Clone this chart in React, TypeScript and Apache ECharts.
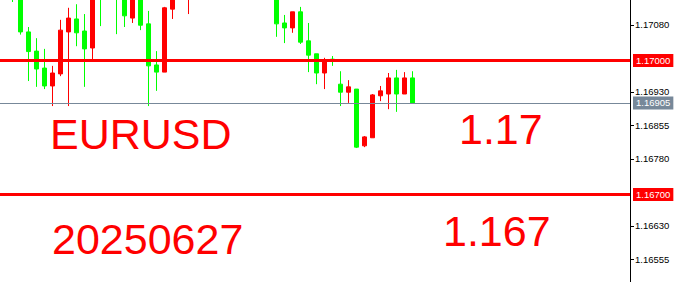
import { useEffect, useRef } from 'react';
import * as echarts from 'echarts';

// Instrument caption and the two key levels written on the chart
const symbolName = 'EURUSD';
const sessionDate = '20250627';
const levelPrices = [1.17, 1.167];
const levelCaptions = ['1.17', '1.167'];
const bidPrice = 1.16905;

// Bar slots (counted from the left edge) and their OHLC prices
const barIndex = [1, 2, 3, 4, 5, 6, 7, 8, 9, 10, 11, 12, 14, 15, 16, 17, 18, 19, 20, 21, 23,
  34, 35, 36, 37, 38, 39, 40, 41, 42, 43, 44, 45, 46, 47, 48, 49, 50, 51];
const opens = [1.17175, 1.1715, 1.17064, 1.17021, 1.16983, 1.16943, 1.1697, 1.17064, 1.17093, 1.17066, 1.17028, 1.172, 1.1718, 1.1716, 1.17095, 1.1715, 1.17082, 1.1699, 1.16974, 1.17115, 1.1715,
  1.1714, 1.17084, 1.17073, 1.17109, 1.17044, 1.17015, 1.16972, 1.17003, 1.16947, 1.16929, 1.16936, 1.16809, 1.16827, 1.16921, 1.16925, 1.16961, 1.16925, 1.16961];
const closes = [1.1715, 1.17064, 1.1702, 1.16981, 1.16943, 1.16972, 1.17068, 1.17095, 1.17062, 1.17026, 1.1715, 1.1716, 1.17145, 1.171, 1.1715, 1.17079, 1.16988, 1.16974, 1.17118, 1.1715, 1.1719,
  1.17082, 1.17073, 1.17109, 1.17041, 1.17012, 1.16972, 1.17001, 1.16999, 1.16929, 1.16941, 1.16806, 1.16829, 1.16923, 1.16932, 1.16961, 1.16925, 1.16961, 1.16905];
const lows = [1.17131, 1.17058, 1.16954, 1.16941, 1.16936, 1.16898, 1.16965, 1.16898, 1.17032, 1.16941, 1.17001, 1.17077, 1.17059, 1.17075, 1.17084, 1.17068, 1.16898, 1.16932, 1.16974, 1.17093, 1.17104,
  1.17053, 1.17039, 1.17062, 1.17037, 1.16974, 1.16947, 1.16936, 1.16988, 1.16898, 1.16905, 1.16804, 1.16806, 1.16827, 1.16909, 1.16891, 1.16885, 1.16925, 1.16905];
const highs = [1.17185, 1.1716, 1.17075, 1.1705, 1.17026, 1.16988, 1.17091, 1.17118, 1.17126, 1.17104, 1.1717, 1.1721, 1.1719, 1.1717, 1.17165, 1.1716, 1.17111, 1.17021, 1.1712, 1.17165, 1.172,
  1.1715, 1.17102, 1.17109, 1.1712, 1.17084, 1.17015, 1.17006, 1.1701, 1.16976, 1.16956, 1.16936, 1.16831, 1.16925, 1.16943, 1.16972, 1.16979, 1.16974, 1.16976];

// Price scale labels
const priceTicks = [1.16555, 1.1663, 1.1678, 1.16855, 1.1693, 1.1708];

const BULL = '#ff0000';
const BEAR = '#00ff00';
const GRAYLINE = '#778899';
const SCALE_FONT = '"Liberation Sans", Arial, sans-serif';

export default function App() {
  const ref = useRef<HTMLDivElement>(null);

  useEffect(() => {
    if (!ref.current) return;
    const chart = echarts.init(ref.current, null, { renderer: 'svg' });

    const candles = barIndex.map((k, i) => [k, opens[i], closes[i], lows[i], highs[i]]);

    const boxLabel = (bg: string) => ({
      show: true,
      position: 'end' as const,
      distance: 3,
      formatter: (p: any) => Number(p.value).toFixed(5),
      color: '#ffffff',
      backgroundColor: bg,
      padding: [2, 3, 1, 3],
      fontSize: 9.5,
      fontFamily: SCALE_FONT,
    });

    chart.setOption({
      animation: false,
      backgroundColor: '#ffffff',
      grid: { left: 0, top: 0, width: 630, bottom: 0, containLabel: false, outerBoundsMode: 'none' },
      xAxis: {
        type: 'value',
        min: -0.5625,
        max: 78.1875,
        show: false,
      },
      yAxis: {
        type: 'value',
        position: 'right',
        min: 1.165041,
        max: 1.1713545,
        scale: true,
        splitLine: { show: false },
        axisLine: { show: true, onZero: false, lineStyle: { color: '#000000', width: 1 } },
        axisTick: {
          show: true,
          length: 4,
          inside: false,
          customValues: priceTicks,
          lineStyle: { color: '#000000' },
        },
        axisLabel: {
          show: true,
          customValues: priceTicks,
          margin: 5,
          color: '#000000',
          fontSize: 9.5,
          fontFamily: SCALE_FONT,
          formatter: (v: number) => v.toFixed(5),
        },
      },
      series: [
        {
          type: 'candlestick',
          data: candles,
          barWidth: 4,
          clip: true,
          itemStyle: {
            color: BULL,
            color0: BEAR,
            borderColor: BULL,
            borderColor0: BEAR,
            borderColorDoji: BEAR,
            borderWidth: 1,
          },
          emphasis: { disabled: true },
          markLine: {
            silent: true,
            symbol: 'none',
            precision: 5,
            animation: false,
            data: [
              {
                yAxis: levelPrices[0],
                lineStyle: { color: BULL, width: 3, type: 'solid' },
                label: boxLabel(BULL),
              },
              {
                yAxis: levelPrices[1],
                lineStyle: { color: BULL, width: 3, type: 'solid' },
                label: boxLabel(BULL),
              },
              {
                yAxis: bidPrice,
                lineStyle: { color: GRAYLINE, width: 1, type: 'solid' },
                label: boxLabel(GRAYLINE),
              },
            ],
          },
        },
      ],
      graphic: [
        {
          type: 'text',
          x: 50,
          y: 134,
          silent: true,
          style: { text: symbolName, fill: BULL, fontSize: 43, fontFamily: SCALE_FONT, verticalAlign: 'middle' },
        },
        {
          type: 'text',
          x: 52,
          y: 239,
          silent: true,
          style: { text: sessionDate, fill: BULL, fontSize: 43, fontFamily: SCALE_FONT, verticalAlign: 'middle' },
        },
        {
          type: 'text',
          x: 459,
          y: 128.5,
          silent: true,
          style: { text: levelCaptions[0], fill: BULL, fontSize: 43, fontFamily: SCALE_FONT, verticalAlign: 'middle' },
        },
        {
          type: 'text',
          x: 443,
          y: 230.5,
          silent: true,
          style: { text: levelCaptions[1], fill: BULL, fontSize: 43, fontFamily: SCALE_FONT, verticalAlign: 'middle' },
        },
      ],
    });

    return () => chart.dispose();
  }, []);

  return (
    <div
      ref={ref}
      style={{ position: 'absolute', left: 0, top: 0, width: 676, height: 282, background: '#ffffff' }}
    />
  );
}
